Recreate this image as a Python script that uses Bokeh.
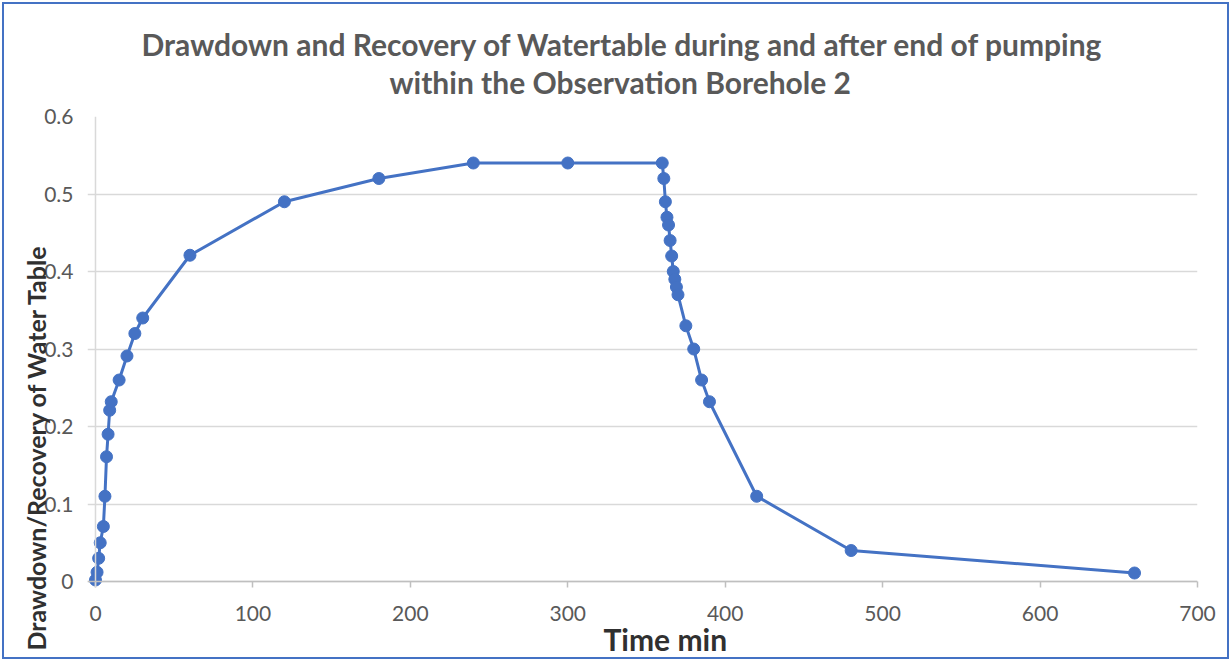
from bokeh.plotting import figure
from bokeh.models import Range1d, FixedTicker, ColumnDataSource, Span, Title
from bokeh.embed import file_html
from bokeh.resources import INLINE

# Data
time_min = [0, 1, 2, 3, 5, 6, 7, 8, 9, 10, 15, 20, 25, 30, 60, 120, 180, 240, 300, 360,
            361, 362, 363, 364, 365, 366, 367, 368, 369, 370,
            375, 380, 385, 390, 420, 480, 660]
level = [0.002, 0.012, 0.03, 0.05, 0.071, 0.11, 0.161, 0.19, 0.221, 0.232, 0.26, 0.291, 0.32, 0.34,
         0.421, 0.49, 0.52, 0.54, 0.54, 0.54,
         0.52, 0.49, 0.47, 0.46, 0.44, 0.42, 0.40, 0.39, 0.38, 0.37,
         0.33, 0.30, 0.26, 0.232, 0.11, 0.04, 0.011]

x_ticks = [0, 100, 200, 300, 400, 500, 600, 700]
y_ticks = [0, 0.1, 0.2, 0.3, 0.4, 0.5, 0.6]
y_tick_labels = ["0", "0.1", "0.2", "0.3", "0.4", "0.5", "0.6"]

title_lines = ["Drawdown and Recovery of Watertable during and after end of pumping",
               "within the Observation Borehole 2"]
x_label = "Time min"
y_label = "Drawdown/Recovery of Water Table"

W, H = 1231, 661
FONT = "Lato"
BLUE = "#4472C4"
FL, FR, FT, FB = 87, 1197, 116, 587   # frame edges on the canvas

p = figure(width=W, height=H, output_backend="svg", toolbar_location=None,
           x_range=Range1d(-5.08, 700), y_range=Range1d(-0.0077, 0.6),
           min_border_left=FL, min_border_right=W - FR, min_border_top=FT, min_border_bottom=H - FB)
p.title.visible = False
p.outline_line_color = None
p.background_fill_color = "white"
p.border_fill_alpha = 0
p.styles = {"outline": "2px solid " + BLUE, "outline-offset": "-4px", "background-color": "white"}

p.xaxis.ticker = FixedTicker(ticks=x_ticks)
p.yaxis.ticker = FixedTicker(ticks=y_ticks)
p.yaxis.major_label_overrides = {t: l for t, l in zip(y_ticks, y_tick_labels)}
for ax in (p.xaxis, p.yaxis):
    ax.axis_line_color = None
    ax.major_tick_out = 0
    ax.minor_tick_line_color = None
    ax.major_label_text_font = FONT
    ax.major_label_text_font_size = "21px"
    ax.major_label_text_color = "#595959"
p.xaxis.major_tick_line_color = "#bfbfbf"
p.xaxis.major_tick_line_width = 1.5
p.xaxis.major_tick_in = 6
p.yaxis.major_tick_line_color = None
p.xaxis.major_label_standoff = 18
p.yaxis.major_label_standoff = 14
p.xgrid.grid_line_color = None
p.ygrid.grid_line_color = "#d9d9d9"
p.ygrid.grid_line_width = 1.5

p.add_layout(Span(location=0, dimension="height", line_color="#d9d9d9", line_width=1.5))
p.add_layout(Span(location=0, dimension="width", line_color="#bfbfbf", line_width=1.5))

src = ColumnDataSource(dict(t=time_min, v=level))
p.line("t", "v", source=src, line_color=BLUE, line_width=3)
p.scatter("t", "v", source=src, size=12, fill_color=BLUE, line_color=BLUE)

def title(text, size, color, offset, standoff, valign):
    return Title(text=text, text_font=FONT, text_font_size=size, text_color=color,
                 text_font_style="bold", align="left", offset=offset,
                 standoff=standoff, vertical_align=valign)

# inner (closest to the frame) first
p.add_layout(title(title_lines[1], "30px", "#595959", 302, 29, "top"), "above")
p.add_layout(title(title_lines[0], "30px", "#595959", 54, -25, "bottom"), "above")
p.add_layout(title(x_label, "30px", "#303030", 516, -6, "top"), "below")
p.add_layout(title(y_label, "25px", "#303030", -63, -18, "bottom"), "left")

open("out.html", "w").write(file_html(p, INLINE))
